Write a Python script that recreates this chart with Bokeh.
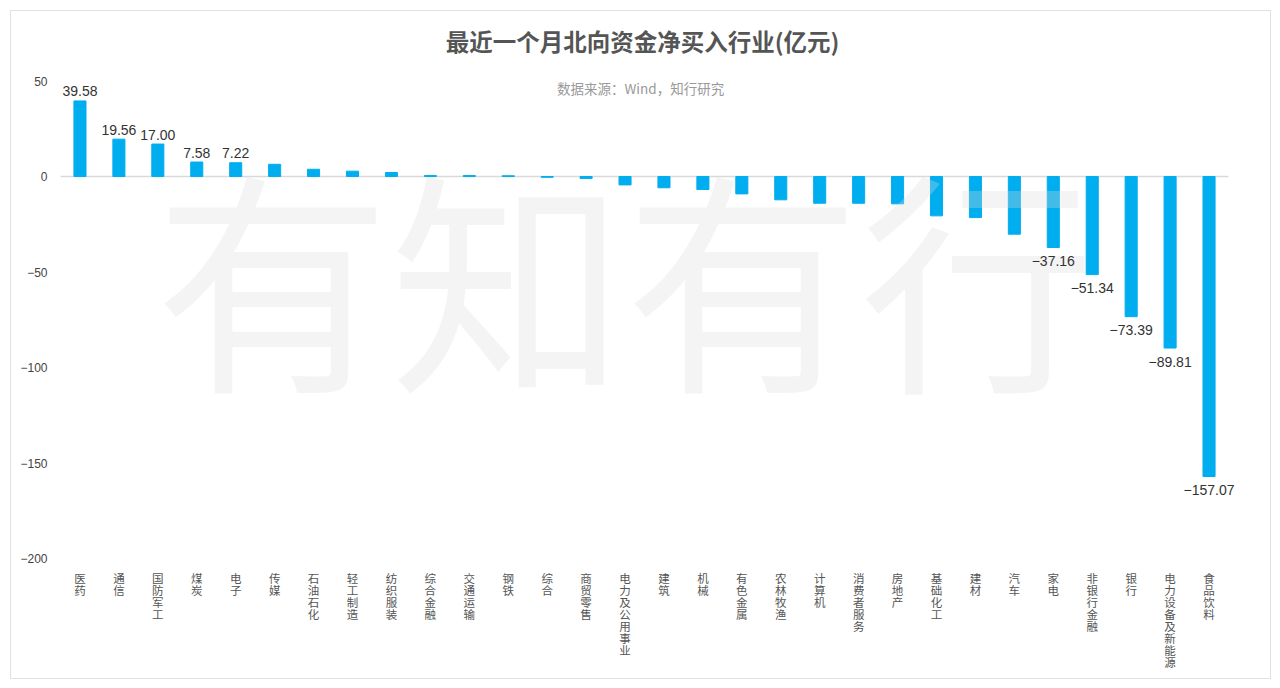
from bokeh.plotting import figure
from bokeh.models import Range1d, FixedTicker, ColumnDataSource, LabelSet
from bokeh.core.properties import value
from bokeh.embed import file_html
from bokeh.resources import INLINE

industries = ["医药", "通信", "国防军工", "煤炭", "电子", "传媒", "石油石化", "轻工制造",
              "纺织服装", "综合金融", "交通运输", "钢铁", "综合", "商贸零售", "电力及公用事业",
              "建筑", "机械", "有色金属", "农林牧渔", "计算机", "消费者服务", "房地产",
              "基础化工", "建材", "汽车", "家电", "非银行金融", "银行", "电力设备及新能源", "食品饮料"]
net_buy = [39.58, 19.56, 17.00, 7.58, 7.22, 6.4, 3.8, 2.8,
           2.1, 0.5, 0.5, 0.4, -0.4, -1.0, -4.4,
           -5.9, -6.8, -9.1, -12.2, -14.0, -14.0, -14.3,
           -20.6, -21.5, -30.2, -37.16, -51.34, -73.39, -89.81, -157.07]
labeled_pos = ["医药", "通信", "国防军工", "煤炭", "电子"]
labeled_neg = ["家电", "非银行金融", "银行", "电力设备及新能源", "食品饮料"]
y_ticks = [-200, -150, -100, -50, 0, 50]

title_text = "最近一个月北向资金净买入行业(亿元)"
subtitle_text = "数据来源：Wind，知行研究"
watermark_text = "有知有行"

CJK = "Noto Sans CJK SC"
NUM = "Liberation Sans"
BAR = "#00AEEF"
PXU = 1.91   # pixels per unit on y
PXX = 38.93  # pixels per category on x

n = len(industries)
xs = list(range(n))
x_lo, x_hi = -0.5, n - 0.5

p = figure(width=1261, height=669, output_backend="svg", toolbar_location=None,
           x_range=Range1d(x_lo, x_hi + 10 / PXX), y_range=Range1d(-200, 86.4),
           min_border_left=49, min_border_right=34, min_border_top=0, min_border_bottom=122)
p.styles = {"border": "1px solid #e2e2e2", "margin-left": "10px", "margin-top": "10px"}
p.outline_line_color = None
p.background_fill_color = "white"
p.border_fill_color = "white"
p.xgrid.visible = False
p.ygrid.visible = False

# zero baseline across the category span
p.segment(x0=[x_lo], y0=[0], x1=[x_hi], y1=[0], line_color="#d9d9d9", line_width=1.5)

src = ColumnDataSource(dict(x=xs, v=net_buy))
p.vbar(x="x", top="v", bottom=0, width=0.31, source=src, fill_color=BAR, line_color=BAR)

# watermark (semi-transparent, over the bars)
p.text(x=[14.0], y=[-50.5], text=[watermark_text], text_font=value(CJK),
       text_font_size=value("235px"), text_color="#dcdcdc", text_alpha=0.3,
       text_align="center", text_baseline="middle")

# value labels
px = [industries.index(s) for s in labeled_pos]
pv = [net_buy[i] for i in px]
nx = [industries.index(s) for s in labeled_neg]
nv = [net_buy[i] for i in nx]
lab_src = ColumnDataSource(dict(
    x=px + nx,
    y=[v + 9.5 / PXU for v in pv] + [v - 13.5 / PXU for v in nv],
    t=["%.2f" % v for v in pv] + ["\u2212%.2f" % abs(v) for v in nv]))
p.add_layout(LabelSet(x="x", y="y", text="t", source=lab_src, text_font=value(NUM),
                      text_font_size=value("14px"), text_color="#333333",
                      text_align="center", text_baseline="middle"))

# title & subtitle (inside top area of frame)
p.text(x=[14.45], y=[50 + (79.5 - 39.5) / PXU], text=[title_text], text_font=value(CJK),
       text_font_size=value("23.5px"), text_font_style="bold", text_color="#555555",
       text_align="center", text_baseline="middle")
p.text(x=[14.4], y=[50 - (86.5 - 79.5) / PXU], text=[subtitle_text], text_font=value(CJK),
       text_font_size=value("13.5px"), text_color="#999999",
       text_align="center", text_baseline="middle")

# axes
p.yaxis.ticker = FixedTicker(ticks=y_ticks)
p.yaxis.major_label_overrides = {t: (("\u2212%d" % abs(t)) if t < 0 else str(t)) for t in y_ticks}
p.yaxis.axis_line_color = None
p.yaxis.major_tick_line_color = None
p.yaxis.minor_tick_line_color = None
p.yaxis.major_label_standoff = 7
p.yaxis.major_label_text_font = NUM
p.yaxis.major_label_text_font_size = "12px"
p.yaxis.major_label_text_color = "#444444"

p.xaxis.ticker = FixedTicker(ticks=xs)
p.xaxis.major_label_overrides = {i: "\n".join(s) for i, s in enumerate(industries)}
p.xaxis.axis_line_color = None
p.xaxis.major_tick_line_color = None
p.xaxis.minor_tick_line_color = None
p.xaxis.major_label_standoff = 8
p.xaxis.major_label_text_font = "'Liberation Sans', 'Noto Sans CJK SC'"
p.xaxis.major_label_text_font_size = "11.5px"
p.xaxis.major_label_text_line_height = 1.0
p.xaxis.major_label_text_color = "#555555"

open("out.html", "w").write(file_html(p, INLINE))
